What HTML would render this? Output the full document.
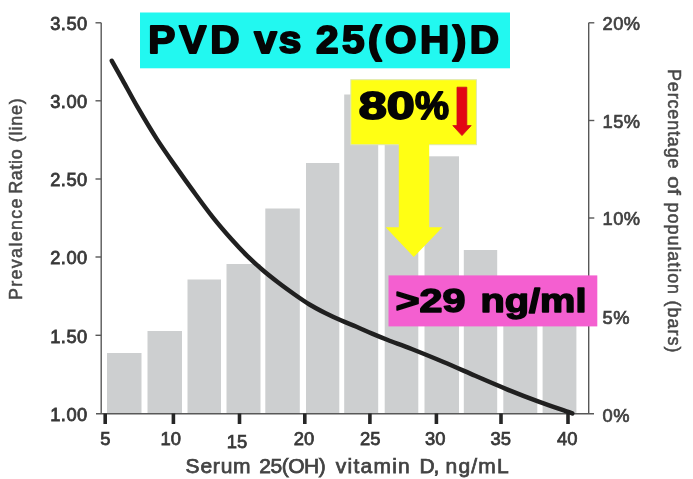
<!DOCTYPE html>
<html>
<head>
<meta charset="utf-8">
<title>PVD vs 25(OH)D</title>
<style>
  html, body { margin: 0; padding: 0; background: #ffffff; }
  body { width: 693px; height: 479px; overflow: hidden; }
  svg { display: block; font-family: "Liberation Sans", sans-serif; filter: blur(0.5px); }
  .tick { font-size: 18.3px; fill: #383838; stroke: #383838; stroke-width: 0.8px; letter-spacing: 0.5px; }
  .xt { font-size: 18.4px; fill: #383838; stroke: #383838; stroke-width: 0.75px; letter-spacing: 0px; }
  .ttl { font-size: 18px; fill: #484848; stroke: #484848; stroke-width: 0.5px; }
  .big { font-weight: bold; fill: #050505; stroke: #050505; stroke-linejoin: round; }
</style>
</head>
<body>
<svg width="693" height="479" viewBox="0 0 693 479">
  <rect x="0" y="0" width="693" height="479" fill="#ffffff"/>

  <!-- bars -->
  <g fill="#cdcfd0">
    <rect x="107" y="353" width="34.5" height="60.5"/>
    <rect x="147.5" y="331" width="34.5" height="82.5"/>
    <rect x="187.5" y="279.5" width="33.5" height="134"/>
    <rect x="226.5" y="264" width="34" height="149.5"/>
    <rect x="265.3" y="208.5" width="34.5" height="205"/>
    <rect x="306" y="163" width="33.3" height="250.5"/>
    <rect x="344.2" y="94.5" width="34" height="319"/>
    <rect x="384.7" y="120" width="33.6" height="293.5"/>
    <rect x="424.5" y="156.3" width="34.5" height="257.2"/>
    <rect x="463.8" y="250" width="33.4" height="163.5"/>
    <rect x="503.3" y="300" width="34" height="113.5"/>
    <rect x="542.6" y="312" width="33.8" height="101.5"/>
  </g>

  <!-- axes -->
  <g stroke="#585858" stroke-width="1.4" fill="none">
    <line x1="101.2" y1="22.8" x2="101.2" y2="413.5"/>
    <line x1="588.7" y1="22.8" x2="588.7" y2="413.5"/>
    <line x1="96" y1="413.7" x2="594" y2="413.7"/>
    <!-- left ticks -->
    <line x1="95.5" y1="22.8" x2="101.2" y2="22.8"/>
    <line x1="95.5" y1="100.8" x2="101.2" y2="100.8"/>
    <line x1="95.5" y1="179" x2="101.2" y2="179"/>
    <line x1="95.5" y1="257" x2="101.2" y2="257"/>
    <line x1="95.5" y1="335.3" x2="101.2" y2="335.3"/>
    <!-- right ticks -->
    <line x1="588.7" y1="22.8" x2="594.3" y2="22.8"/>
    <line x1="588.7" y1="120.5" x2="594.3" y2="120.5"/>
    <line x1="588.7" y1="218" x2="594.3" y2="218"/>
    <line x1="588.7" y1="315.7" x2="594.3" y2="315.7"/>
  </g>
  <!-- x ticks -->
  <g stroke="#262626" stroke-width="3.6">
    <line x1="105.2" y1="413.5" x2="105.2" y2="424"/>
    <line x1="173.4" y1="413.5" x2="173.4" y2="424"/>
    <line x1="239.5" y1="413.5" x2="239.5" y2="424"/>
    <line x1="304.8" y1="413.5" x2="304.8" y2="424"/>
    <line x1="369.9" y1="413.5" x2="369.9" y2="424"/>
    <line x1="436.4" y1="413.5" x2="436.4" y2="424"/>
    <line x1="501" y1="413.5" x2="501" y2="424"/>
    <line x1="568" y1="413.5" x2="568" y2="424"/>
  </g>

  <!-- curve -->
  <path d="M111.8,60.8 C113.6,64.0 118.3,72.4 122.6,80.1 C126.9,87.8 132.0,97.5 137.6,107.2 C143.2,116.9 150.1,128.6 156.4,138.4 C162.7,148.2 168.9,156.9 175.2,165.9 C181.5,174.9 187.7,183.6 194.0,192.2 C200.3,200.8 206.7,209.6 212.9,217.4 C219.1,225.2 225.6,232.7 231.3,239.1 C237.0,245.5 241.7,250.5 246.9,255.7 C252.1,260.8 257.4,265.5 262.6,270.0 C267.8,274.5 273.0,278.5 278.2,282.5 C283.4,286.5 288.7,290.3 293.9,294.0 C299.1,297.7 304.3,301.3 309.5,304.5 C314.7,307.7 320.0,310.4 325.2,313.0 C330.4,315.6 335.6,318.0 340.8,320.3 C346.0,322.6 351.3,324.6 356.5,326.8 C361.7,329.0 366.9,331.4 372.1,333.6 C377.3,335.8 381.2,337.4 387.8,340.0 C394.4,342.6 402.4,345.3 411.7,349.0 C421.0,352.7 432.9,357.5 443.5,362.0 C454.1,366.5 464.6,371.2 475.2,375.8 C485.8,380.4 496.4,385.0 507.0,389.3 C517.6,393.6 527.8,397.6 538.7,401.6 C549.6,405.6 566.7,411.4 572.3,413.4"
        fill="none" stroke="#202020" stroke-width="4.5" stroke-linecap="round" stroke-linejoin="round"/>

  <!-- left tick labels -->
  <g class="tick" text-anchor="end">
    <text x="87.8" y="29.5">3.50</text>
    <text x="87.8" y="107.5">3.00</text>
    <text x="87.8" y="185.7">2.50</text>
    <text x="87.8" y="263.7">2.00</text>
    <text x="87.8" y="342.6">1.50</text>
    <text x="87.8" y="421">1.00</text>
  </g>
  <!-- right tick labels -->
  <g class="tick" style="letter-spacing:0.5px;stroke-width:0.7px;fill:#404040;stroke:#404040">
    <text x="602.5" y="29.5">20%</text>
    <text x="602.5" y="127.5">15%</text>
    <text x="602.5" y="225">10%</text>
    <text x="602.5" y="324.2">5%</text>
    <text x="602.5" y="421.6">0%</text>
  </g>
  <!-- x labels -->
  <g class="xt" text-anchor="middle">
    <text x="105.3" y="445">5</text>
    <text x="170.8" y="445">10</text>
    <text x="236.9" y="448.3">15</text>
    <text x="304" y="444.5">20</text>
    <text x="370.2" y="444.8">25</text>
    <text x="435.3" y="445">30</text>
    <text x="500.8" y="445">35</text>
    <text x="567.3" y="445">40</text>
  </g>

  <!-- axis titles -->
  <g class="ttl" style="font-size:21px;stroke-width:0.75px;fill:#434343;stroke:#434343">
    <text x="185.6" y="472.8" textLength="65" lengthAdjust="spacing">Serum</text>
    <text x="259.3" y="472.8" textLength="66.5" lengthAdjust="spacing">25(OH)</text>
    <text x="335.8" y="472.8" textLength="74" lengthAdjust="spacing">vitamin</text>
    <text x="419.4" y="472.8" textLength="20" lengthAdjust="spacing">D,</text>
    <text x="445.6" y="472.8" textLength="63" lengthAdjust="spacing">ng/mL</text>
  </g>
  <g class="ttl" transform="translate(22.3,0) rotate(-90)">
    <text x="-300" y="0" textLength="101.5" lengthAdjust="spacing">Prevalence</text>
    <text x="-193.8" y="0" textLength="44.5" lengthAdjust="spacing">Ratio</text>
    <text x="-142.2" y="0" textLength="44" lengthAdjust="spacing">(line)</text>
  </g>
  <g class="ttl" transform="translate(667.6,0) rotate(90)">
    <text x="69" y="0" textLength="99.5" lengthAdjust="spacing">Percentage</text>
    <text x="176.3" y="0" textLength="18.6" lengthAdjust="spacingAndGlyphs">of</text>
    <text x="202.6" y="0" textLength="91.5" lengthAdjust="spacing">population</text>
    <text x="300.4" y="0" textLength="52" lengthAdjust="spacing">(bars)</text>
  </g>

  <!-- cyan title box -->
  <rect x="140" y="12.5" width="370" height="55.8" fill="#22f8f0"/>
  <g class="big" font-size="39" stroke-width="2">
    <text transform="translate(148.2,53.3) scale(1.04,1)" textLength="87.7" lengthAdjust="spacing">PVD</text>
    <text transform="translate(254.3,53.3) scale(1.04,1)" textLength="45.2" lengthAdjust="spacing">vs</text>
    <text transform="translate(316,53.3) scale(1.04,1)" textLength="176" lengthAdjust="spacing">25(OH)D</text>
  </g>

  <!-- yellow box + arrow -->
  <rect x="350.8" y="79.7" width="125.6" height="65" fill="#ffff14" stroke="#dfe8b0" stroke-width="1"/>
  <polygon points="398.8,143 429.2,143 429.2,227.3 442.5,227.3 413.8,257 385.6,227.3 398.8,227.3" fill="#ffff14"/>
  <g class="big" font-size="38.5" stroke-width="1.8">
    <text x="358.8" y="119" textLength="56" lengthAdjust="spacingAndGlyphs">80</text>
    <text x="415" y="119" textLength="34" lengthAdjust="spacingAndGlyphs">%</text>
  </g>
  <!-- red arrow -->
  <polygon points="457,87.2 466.8,87.2 466.8,125.6 471.2,125.6 462,135.6 452.8,125.6 457,125.6" fill="#e30613" stroke="#c8101a" stroke-width="0.8" stroke-linejoin="miter"/>

  <!-- pink box -->
  <rect x="388.5" y="275.4" width="208.8" height="51" fill="#f45fd0"/>
  <g class="big" font-size="33" stroke-width="1.5">
    <text x="395.5" y="311.6" textLength="70" lengthAdjust="spacingAndGlyphs">&gt;29</text>
    <text x="480.5" y="311.6" textLength="106" lengthAdjust="spacingAndGlyphs">ng/ml</text>
  </g>
</svg>
</body>
</html>
